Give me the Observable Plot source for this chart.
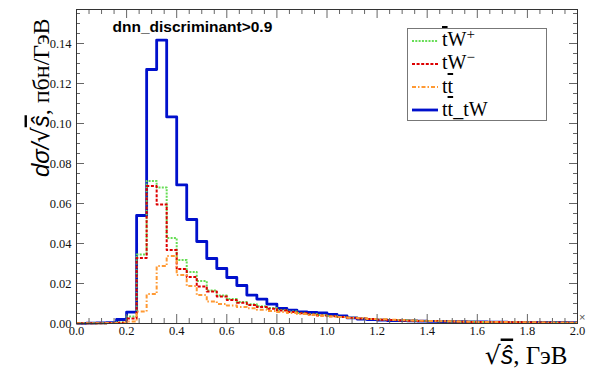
<!DOCTYPE html>
<html><head><meta charset="utf-8">
<script src="https://cdn.jsdelivr.net/npm/d3@7"></script>
<script src="https://cdn.jsdelivr.net/npm/@observablehq/plot@0.6"></script>
<style>
body{margin:0;background:#fff;}
#wrap{position:relative;width:592px;height:381px;}
#legend{position:absolute;left:407px;top:28px;width:138px;height:91px;border:1px solid #777;background:#fff;font-family:"Liberation Serif","Times New Roman",Times,serif;font-size:20px;color:#000;}
.row{position:absolute;left:0;height:23px;display:flex;align-items:center;white-space:nowrap;line-height:23px;}
.row svg{display:block;margin-right:2px;}
.ov{text-decoration:overline;text-decoration-thickness:1.5px;}
.sup{font-size:15px;position:relative;top:-7px;}
</style></head><body><div id="wrap"><div id="legend"></div></div>
<script>
// ---- data ----
const binWidth = 0.04;
const nBins = 50;
const binStart = d3.range(nBins).map(i => +(i * binWidth).toFixed(2));

const tbarWplus = [0.0001,0.0001,0.0001,0.0002,0.0006,0.0035,0.0345,0.0713,0.0680,0.0427,
  0.0317,0.0257,0.0212,0.0165,0.0140,0.0122,0.0108,0.0096,0.0086,0.0077,
  0.0068,0.0060,0.0053,0.0047,0.0042,0.0037,0.0033,0.0029,0.0026,0.0023,
  0.0020,0.0018,0.0016,0.0015,0.0013,0.0012,0.0011,0.0010,0.0009,0.0009,
  0.0008,0.0007,0.0007,0.0006,0.0006,0.0005,0.0005,0.0005,0.0004,0.0004];
const tWminus = [0.0001,0.0001,0.0001,0.0002,0.0004,0.0025,0.0328,0.0687,0.0595,0.0367,
  0.0272,0.0232,0.0185,0.0160,0.0135,0.0118,0.0104,0.0093,0.0083,0.0074,
  0.0065,0.0058,0.0051,0.0045,0.0040,0.0036,0.0032,0.0028,0.0025,0.0022,
  0.0019,0.0017,0.0015,0.0014,0.0013,0.0012,0.0011,0.0010,0.0009,0.0008,
  0.0008,0.0007,0.0007,0.0006,0.0006,0.0005,0.0005,0.0004,0.0004,0.0004];
const ttbar = [0.0001,0.0001,0.0001,0.0002,0.0003,0.0010,0.0060,0.0147,0.0287,0.0337,
  0.0242,0.0187,0.0142,0.0110,0.0098,0.0090,0.0083,0.0076,0.0069,0.0063,
  0.0057,0.0052,0.0047,0.0043,0.0039,0.0035,0.0032,0.0029,0.0026,0.0023,
  0.0021,0.0019,0.0017,0.0015,0.0014,0.0013,0.0012,0.0011,0.0010,0.0009,
  0.0008,0.0008,0.0007,0.0007,0.0006,0.0006,0.0005,0.0005,0.0005,0.0004];
const ttbarTW = [0.0001,0.0002,0.0003,0.0004,0.0020,0.0057,0.0540,0.1270,0.1417,0.1033,
  0.0693,0.0520,0.0410,0.0325,0.0275,0.0230,0.0190,0.0142,0.0122,0.0097,
  0.0075,0.0067,0.0058,0.0055,0.0053,0.0045,0.0038,0.0028,0.0022,0.0019,
  0.0017,0.0015,0.0014,0.0013,0.0012,0.0011,0.0010,0.0009,0.0009,0.0008,
  0.0008,0.0007,0.0007,0.0006,0.0006,0.0006,0.0005,0.0005,0.0005,0.0004];

const xMajor = [0,0.2,0.4,0.6,0.8,1.0,1.2,1.4,1.6,1.8,2.0];
const yMajor = [0,0.02,0.04,0.06,0.08,0.10,0.12,0.14];
const xMinor = d3.range(0, 2.0001, 0.05).filter(v => Math.abs(v*5 - Math.round(v*5)) > 1e-6);
const yMinor = d3.range(0, 0.1571, 0.005).filter(v => Math.abs(v*50 - Math.round(v*50)) > 1e-6);

const cutLabel = "dnn_discriminant>0.9";
const yTitle = "dσ/√ŝ, пбн/ГэВ";
const xTitle = "√ŝ, ГэВ";

const series = [
  {name: "tbarWplus", values: tbarWplus, color: "#66dd55", width: 2, dash: "2,1.3"},
  {name: "tWminus", values: tWminus, color: "#dd0000", width: 2, dash: "3,1.6"},
  {name: "ttbar", values: ttbar, color: "#ff9933", width: 2, dash: "4,2,1.5,2"},
  {name: "ttbarTW", values: ttbarTW, color: "#0010cc", width: 2.8, dash: null}
];

function stepData(vals) {
  return binStart.map((x, i) => ({x, y: vals[i]})).concat([{x: binStart[nBins-1] + binWidth, y: vals[nBins-1]}]);
}

// ---- layout ----
const W = 592, H = 381, mL = 76, mR = 15, mT = 9, mB = 58;
const fW = W - mL - mR, fH = H - mT - mB;
const tickCol = "#666";
const serif = "'Liberation Serif', 'Times New Roman', Times, serif";

const drawOrder = [series[3], series[0], series[1], series[2]];

const plot = Plot.plot({
  width: W, height: H,
  marginLeft: mL, marginRight: mR, marginTop: mT, marginBottom: mB,
  x: {domain: [0, 2], axis: null},
  y: {domain: [0, 0.157], axis: null},
  style: {fontFamily: serif, fontSize: "12px", background: "#fff", color: "#000", overflow: "visible"},
  marks: [
    ...drawOrder.map(s => Plot.line(stepData(s.values), {
      x: "x", y: "y", curve: "step-after", stroke: s.color, strokeWidth: s.width,
      strokeDasharray: s.dash || undefined, strokeLinecap: "butt"
    })),
    // bottom ticks (inward)
    Plot.tickX(xMajor, {x: d => d, insetTop: fH - 9, stroke: tickCol}),
    Plot.tickX(xMinor, {x: d => d, insetTop: fH - 5, stroke: tickCol}),
    // top ticks
    Plot.tickX(xMajor, {x: d => d, insetBottom: fH - 9, stroke: tickCol}),
    Plot.tickX(xMinor, {x: d => d, insetBottom: fH - 5, stroke: tickCol}),
    // left ticks
    Plot.tickY(yMajor, {y: d => d, insetRight: fW - 8, stroke: tickCol}),
    Plot.tickY(yMinor, {y: d => d, insetRight: fW - 4, stroke: tickCol}),
    // right ticks
    Plot.tickY(yMajor, {y: d => d, insetLeft: fW - 8, stroke: tickCol}),
    Plot.tickY(yMinor, {y: d => d, insetLeft: fW - 4, stroke: tickCol}),
    Plot.frame({stroke: "#333"}),
    // tick labels
    Plot.text(xMajor, {x: d => d, frameAnchor: "bottom", dy: 11, text: d => d.toFixed(1), fontFamily: serif, fontSize: 12.5, fill: "#111"}),
    Plot.text(yMajor, {y: d => d, frameAnchor: "left", dx: -5, textAnchor: "end", text: d => d.toFixed(2), fontFamily: serif, fontSize: 12.5, fill: "#111"}),
    // titles
    Plot.text([cutLabel], {frameAnchor: "top-left", dx: 36, dy: 11, textAnchor: "start", text: d => d,
      fontFamily: "'Liberation Sans', Arial, sans-serif", fontWeight: "bold", fontSize: 15.5, fill: "#000"}),
    Plot.text([yTitle], {frameAnchor: "top-left", dx: -45, dy: 9, rotate: -90, textAnchor: "end", text: d => d,
      fontFamily: serif, fontSize: 24, fill: "#000"}),
    Plot.text([xTitle], {frameAnchor: "bottom-right", dx: -10, dy: 40, textAnchor: "end", text: d => d,
      fontFamily: serif, fontSize: 25, fill: "#000"}),
    Plot.text(["×"], {frameAnchor: "bottom-right", dx: 8, dy: -3, text: d => d, fontFamily: "'Liberation Sans', sans-serif", fontSize: 11, fill: "#555"})
  ]
});

document.getElementById("wrap").prepend(plot);

// rich formatting of axis titles
d3.select(plot).selectAll("text").each(function() {
  const t = this.textContent;
  const el = d3.select(this);
  if (t === yTitle) {
    el.text(null);
    el.append("tspan").attr("font-family", "Liberation Sans").attr("font-style", "italic").text("dσ");
    el.append("tspan").attr("font-family", "Liberation Sans").attr("font-style", "italic").text("/");
    el.append("tspan").attr("font-family", "DejaVu Serif").text("√");
    el.append("tspan").attr("font-family", "Liberation Sans").attr("font-style", "italic").attr("style", "text-decoration:overline;text-decoration-thickness:1.5px").text("ŝ");
    el.append("tspan").text(", пбн/ГэВ");
  } else if (t === xTitle) {
    el.text(null);
    el.append("tspan").attr("font-family", "DejaVu Serif").text("√");
    el.append("tspan").attr("font-family", "Liberation Sans").attr("font-style", "italic").attr("style", "text-decoration:overline;text-decoration-thickness:1.5px").text("ŝ");
    el.append("tspan").text(", ГэВ");
  }
});

// legend (inside the frame, as in the reference)
const legendEntries = [
  {s: series[0], html: '<span class="ov">t</span>W<span class="sup">+</span>'},
  {s: series[1], html: 'tW<span class="sup">−</span>'},
  {s: series[2], html: 't<span class="ov">t</span>'},
  {s: series[3], html: 't<span class="ov">t</span>_tW'}
];
const legend = d3.select("#legend");
legendEntries.forEach((e, i) => {
  const row = legend.append("div").attr("class", "row").style("top", (i * 23) + "px");
  const sv = row.append("svg").attr("width", 32).attr("height", 6);
  sv.append("line").attr("x1", 4).attr("x2", 30).attr("y1", 3).attr("y2", 3)
    .attr("stroke", e.s.color).attr("stroke-width", e.s.width)
    .attr("stroke-dasharray", e.s.dash);
  row.append("span").html(e.html);
});
</script>
</body></html>
